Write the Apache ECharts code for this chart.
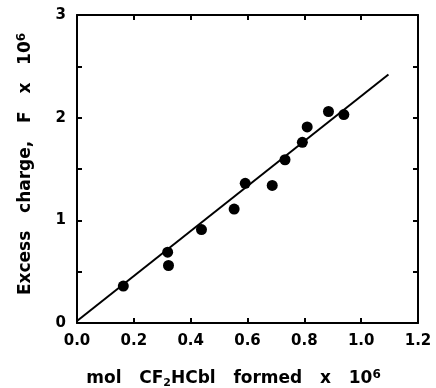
<!DOCTYPE html>
<html><head><meta charset="utf-8">
<script src="https://cdn.jsdelivr.net/npm/echarts@6/dist/echarts.min.js"></script>
<style>html,body{margin:0;padding:0;background:#fff}#c{width:436px;height:388px}</style>
</head><body><div id="c"></div>
<script>
const xValues = [0.163, 0.319, 0.322, 0.438, 0.553, 0.592, 0.687, 0.732, 0.793, 0.810, 0.885, 0.939];
const yValues = [0.36, 0.69, 0.56, 0.91, 1.11, 1.36, 1.34, 1.59, 1.76, 1.91, 2.06, 2.03];
const fitX = [0.0, 1.096];
const fitY = [0.02, 2.42];
const xTicks = ['0.0','0.2','0.4','0.6','0.8','1.0','1.2'];

const font = '"DejaVu Sans", Arial, sans-serif';
const chart = echarts.init(document.getElementById('c'));
const axLine = {show:true, onZero:false, lineStyle:{color:'#000', width:2}};
const tick = {show:true, inside:true, length:5, lineStyle:{color:'#000', width:2}};
chart.setOption({
  animation:false,
  grid:{left:77, right:18, top:15, bottom:65, containLabel:false, outerBoundsMode:'none'},
  xAxis:[{
    type:'value', min:0, max:1.2, interval:0.2, position:'bottom',
    axisLine:axLine, axisTick:tick, splitLine:{show:false},
    axisLabel:{color:'#000', fontFamily:font, fontWeight:'bold', fontSize:15, margin:11,
      formatter:(v)=>xTicks[Math.round(v/0.2)]},
    name:'mol   CF{s|2}HCbl   formed   x   10{p|6}', nameLocation:'middle', nameGap:46,
    nameTextStyle:{color:'#000', fontFamily:font, fontWeight:'bold', fontSize:17, padding:[0,28,0,0],
      rich:{s:{fontFamily:font, fontWeight:'bold', fontSize:11, verticalAlign:'bottom', padding:[5,0,0,0]},
            p:{fontFamily:font, fontWeight:'bold', fontSize:12, verticalAlign:'top', padding:[0,0,8,0]}}}
  },{
    type:'value', min:0, max:1.2, interval:0.2, position:'top',
    axisLine:axLine, axisTick:tick, axisLabel:{show:false}, splitLine:{show:false}
  }],
  yAxis:[{
    type:'value', min:0, max:3, interval:0.5, position:'left',
    axisLine:axLine, axisTick:tick, splitLine:{show:false},
    axisLabel:{color:'#000', fontFamily:font, fontWeight:'bold', fontSize:15, margin:11,
      formatter:(v)=>Number.isInteger(v)?String(v):''},
    name:'Excess   charge,   F   x   10{p|6}', nameLocation:'middle', nameGap:41, nameRotate:90,
    nameTextStyle:{color:'#000', fontFamily:font, fontWeight:'bold', fontSize:17, padding:[0,0,0,10],
      rich:{p:{fontFamily:font, fontWeight:'bold', fontSize:12, verticalAlign:'top', padding:[0,0,8,0]}}}
  },{
    type:'value', min:0, max:3, interval:0.5, position:'right',
    axisLine:axLine, axisTick:tick, axisLabel:{show:false}, splitLine:{show:false}
  }],
  series:[{
    type:'line', data:fitX.map((x,i)=>[x,fitY[i]]), showSymbol:false, symbol:'none',
    lineStyle:{color:'#000', width:2}, z:2
  },{
    type:'scatter', data:xValues.map((x,i)=>[x,yValues[i]]), symbolSize:11,
    itemStyle:{color:'#000', opacity:1}, z:3
  }]
});
</script></body></html>
